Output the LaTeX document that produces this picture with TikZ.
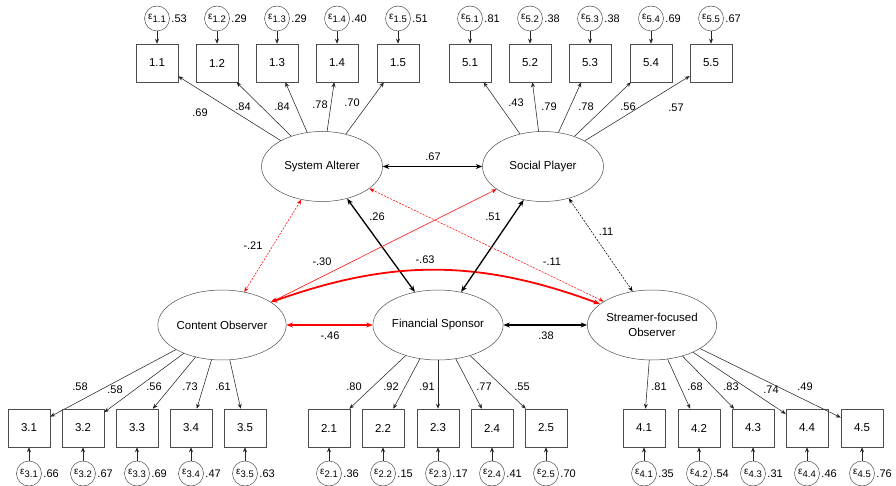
\documentclass[tikz,border=0pt]{standalone}
\usepackage{fontspec}
\setmainfont{Liberation Sans}
\usetikzlibrary{arrows.meta,shapes.geometric}

\newcommand{\errlab}[1]{{\fontsize{10}{11}\selectfont ε}\raisebox{-0.5ex}{\fontsize{9.5}{10}\selectfont #1}}

\begin{document}
\begin{tikzpicture}[
            x=1pt, y=-1pt,
            latent/.style={ellipse, draw=black!70, line width=0.5pt, minimum width=121pt, minimum height=70pt, inner sep=0pt, align=center, font=\fontsize{11.5}{15}\selectfont},
            item/.style={rectangle, draw=black!70, line width=0.5pt, minimum width=42pt, minimum height=38pt, inner sep=0pt, font=\fontsize{11.5}{13}\selectfont},
            err/.style={circle, draw=black!70, line width=0.5pt, minimum size=25pt, inner sep=0pt},
            num/.style={inner sep=1.5pt, font=\fontsize{11}{12}\selectfont},
            load/.style={draw=black!85, line width=0.55pt, -{Stealth[length=5pt,width=4pt]}},
            cov/.style={line width=1.3pt, {Stealth[length=6.5pt,width=5pt]}-{Stealth[length=6.5pt,width=5pt]}},
            covthin/.style={line width=0.55pt, {Stealth[length=5pt,width=4pt]}-{Stealth[length=5pt,width=4pt]}},
            finedash/.style={dash pattern=on 2pt off 1.3pt}
        ]
            \useasboundingbox (0,0) rectangle (896,486);

            % Latent factors
            \node[latent] (sa) at (322,166.5) {System Alterer};
            \node[latent] (sp) at (543,166.5) {Social Player};
            \node[latent] (co) at (222,325) {Content Observer};
            \node[latent] (fs) at (438,325) {Financial Sponsor};
            \node[latent] (sfo) at (652,325) {Streamer-focused\\Observer};

            % Items of System Alterer (top)
            \foreach \k/\x/\ld/\lx/\ly/\ev in {1/157/.69/200/113/.53, 2/217/.84/243/107/.29, 3/277/.84/282/107/.29, 4/337/.78/320/105/.40, 5/398/.70/352/103/.51}{
                \node[item] (i1\k) at (\x,63) {1.\k};
                \node[err] (e1\k) at (\x,18.5) {\errlab{1.\k}};
                \node[num, right] at (e1\k.east) {\ev};
                \draw[load] (e1\k) -- (i1\k);
                \draw[load] (sa) -- (i1\k);
                \node[num] at (\lx,\ly) {\ld};
            }

            % Items of Social Player (top)
            \foreach \k/\x/\ld/\lx/\ly/\ev in {1/470/.43/516/103/.81, 2/530/.79/549/107/.38, 3/590/.78/586/107/.38, 4/651/.56/628/107/.69, 5/711/.57/676/108/.67}{
                \node[item] (i5\k) at (\x,63) {5.\k};
                \node[err] (e5\k) at (\x,18.5) {\errlab{5.\k}};
                \node[num, right] at (e5\k.east) {\ev};
                \draw[load] (e5\k) -- (i5\k);
                \draw[load] (sp) -- (i5\k);
                \node[num] at (\lx,\ly) {\ld};
            }

            % Items of Content Observer (bottom)
            \foreach \k/\x/\ld/\lx/\ly/\ev in {1/29/.58/80/387/.66, 2/83/.58/115/390/.67, 3/137/.56/154/387/.69, 4/191/.73/190/387/.47, 5/245/.61/223/387/.63}{
                \node[item] (i3\k) at (\x,428) {3.\k};
                \node[err] (e3\k) at (\x,473.5) {\errlab{3.\k}};
                \node[num, right] at (e3\k.east) {\ev};
                \draw[load] (e3\k) -- (i3\k);
                \draw[load] (co) -- (i3\k);
                \node[num] at (\lx,\ly) {\ld};
            }

            % Items of Financial Sponsor (bottom)
            \foreach \k/\x/\ld/\lx/\ly/\ev in {1/329/.80/354/387/.36, 2/383/.92/391/387/.15, 3/438/.91/427/387/.17, 4/492/.77/484/387/.41, 5/546/.55/522/387/.70}{
                \node[item] (i2\k) at (\x,428) {2.\k};
                \node[err] (e2\k) at (\x,473.5) {\errlab{2.\k}};
                \node[num, right] at (e2\k.east) {\ev};
                \draw[load] (e2\k) -- (i2\k);
                \draw[load] (fs) -- (i2\k);
                \node[num] at (\lx,\ly) {\ld};
            }

            % Items of Streamer-focused Observer (bottom)
            \foreach \k/\x/\ld/\lx/\ly/\ev in {1/644/.81/659/387/.35, 2/699/.68/695/387/.54, 3/753/.83/731/387/.31, 4/807/.74/771/390/.46, 5/862/.49/805/387/.76}{
                \node[item] (i4\k) at (\x,428) {4.\k};
                \node[err] (e4\k) at (\x,473.5) {\errlab{4.\k}};
                \node[num, right] at (e4\k.east) {\ev};
                \draw[load] (e4\k) -- (i4\k);
                \draw[load] (sfo) -- (i4\k);
                \node[num] at (\lx,\ly) {\ld};
            }

            % Factor correlations
            \draw[cov] (sa.east) -- (sp.west);
            \draw[covthin, red, finedash] (sa.-122.5) -- (co.56.7);
            \draw[cov] (sa.-52) -- (fs.125.5);
            \draw[covthin, red] (sp.-154.5) -- (co.25.6);
            \draw[cov, red, line width=1.8pt] (co.25.6) to[bend left=20] (sfo.158);
            \draw[cov] (sp.-120.6) -- (fs.55.6);
            \draw[covthin, red, finedash] (sa.-25.2) -- (sfo.154);
            \draw[covthin, finedash] (sp.-51) -- (sfo.120.5);
            \draw[cov, red] (co.east) -- (fs.west);
            \draw[cov] (fs.east) -- (sfo.west);

            % Correlation labels
            \node[num] at (433,157) {.67};
            \node[num] at (253,246) {-.21};
            \node[num] at (377,217) {.26};
            \node[num] at (322,262) {-.30};
            \node[num] at (425,260) {-.63};
            \node[num] at (493,217) {.51};
            \node[num] at (552,262) {-.11};
            \node[num] at (606,232) {.11};
            \node[num] at (330,336) {-.46};
            \node[num] at (546,336) {.38};

        \end{tikzpicture}
\end{document}
